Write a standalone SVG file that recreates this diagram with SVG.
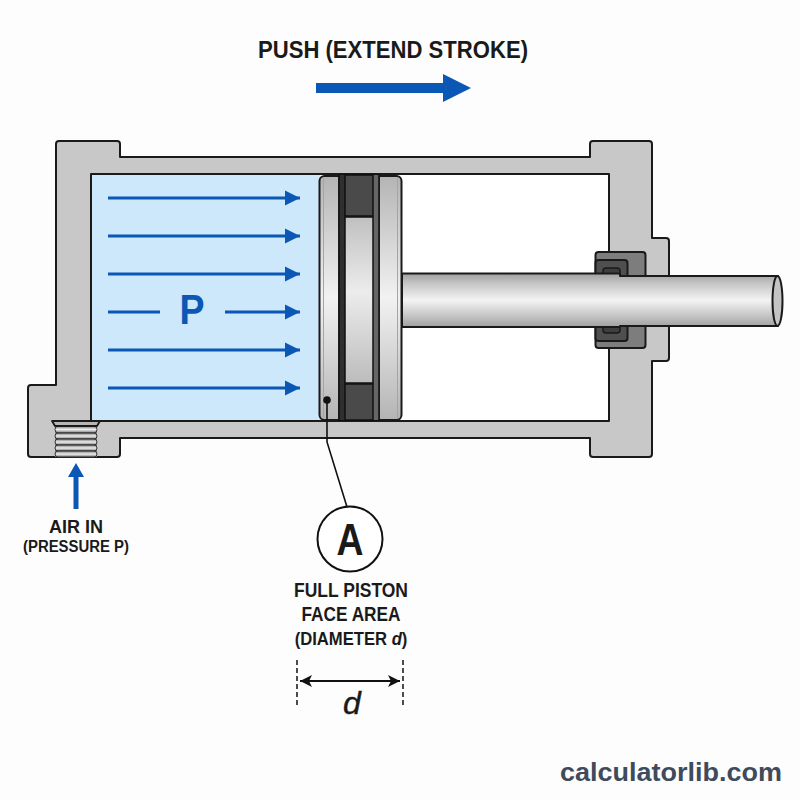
<svg xmlns="http://www.w3.org/2000/svg" width="800" height="800" viewBox="0 0 800 800">
<style>
.ol{stroke:#1a1a1a;stroke-width:2;stroke-linejoin:round}
.flow{stroke:#0b57b5;stroke-width:3;fill:none;marker-end:url(#ah)}
.t{font-family:"Liberation Sans",Arial,sans-serif;font-weight:700;fill:#1a1a1a;text-anchor:middle}
.thr{fill:url(#thread);stroke:#333;stroke-width:1}
</style>
<defs>
<marker id="ah" markerUnits="userSpaceOnUse" markerWidth="16" markerHeight="16" refX="15" refY="8" orient="auto"><path d="M0 .5L15 8L0 15.500Z" fill="#0b57b5"/></marker>
<marker id="dimE" markerUnits="userSpaceOnUse" markerWidth="13" markerHeight="12" refX="12" refY="6" orient="auto"><path d="M0 0L12 6L0 12L3 6Z" fill="#111"/></marker>
<marker id="dimS" markerUnits="userSpaceOnUse" markerWidth="13" markerHeight="12" refX="1" refY="6" orient="auto"><path d="M13 0L1 6L13 12L10 6Z" fill="#111"/></marker>
<linearGradient id="metal" x1="0" y1="0" x2="0" y2="1">
<stop offset="0" stop-color="#a0a0a0"/><stop offset=".18" stop-color="#c4c4c4"/><stop offset=".5" stop-color="#f4f4f4"/><stop offset=".82" stop-color="#c0c0c0"/><stop offset="1" stop-color="#a0a0a0"/></linearGradient>
<linearGradient id="plate" x1="0" y1="0" x2="0" y2="1">
<stop offset="0" stop-color="#b4b4b4"/><stop offset=".5" stop-color="#f2f2f2"/><stop offset="1" stop-color="#b4b4b4"/></linearGradient>
<linearGradient id="mid" x1="0" y1="0" x2="0" y2="1">
<stop offset="0" stop-color="#c0c0c0"/><stop offset=".45" stop-color="#ececec"/><stop offset="1" stop-color="#bcbcbc"/></linearGradient>
<linearGradient id="thread" x1="0" y1="0" x2="0" y2="1">
<stop offset="0" stop-color="#777"/><stop offset=".5" stop-color="#eee"/><stop offset="1" stop-color="#777"/></linearGradient>
</defs>
<rect width="800" height="800" fill="#fdfdfd"/>

<g id="cylinder-body">
<path class="ol" fill="#c8c8c8" d="M59 141H117Q120 141 120 144V157H590V144Q590 141 593 141H649Q652 141 652 144V238H666Q669 238 669 241V358Q669 361 666 361H652V454Q652 457 649 457H593Q590 457 590 454V438H120V454Q120 457 117 457H31Q28 457 28 454V388Q28 385 31 385H56V144Q56 141 59 141Z"/>
<rect x="91" y="174" width="518" height="247" fill="#fff" class="ol"/>
<rect x="92" y="175" width="228" height="245" fill="#cde7fb"/>
</g>

<g id="air-port">
<rect x="55" y="424" width="42" height="33" fill="#8a8a8a"/>
<rect x="55" y="426" width="42" height="7" rx="3.500" class="thr"/>
<rect x="55" y="433" width="42" height="6" rx="3" class="thr"/>
<rect x="55" y="439" width="42" height="6" rx="3" class="thr"/>
<rect x="55" y="445" width="42" height="6" rx="3" class="thr"/>
<rect x="55" y="451" width="42" height="6" rx="3" class="thr"/>
<path d="M52 421H100L97 426H55Z" fill="#b5b5b5" stroke="#1a1a1a" stroke-width="1.800" stroke-linejoin="round"/>
</g>

<g id="rod-seal">
<rect x="595.500" y="252" width="50" height="96" rx="3" fill="#7d7d7d" class="ol"/>
<rect x="595.500" y="260" width="32" height="81" rx="3" fill="#4f4f4f" class="ol"/>
<rect x="603" y="268" width="17" height="65" rx="3" fill="#3e3e3e" stroke="#1a1a1a" stroke-width="1.500"/>
</g>

<g id="piston-rod">
<path class="ol" fill="url(#metal)" d="M402 273.500H620V276H778V326H620V327H402Z"/>
<ellipse cx="777.500" cy="301" rx="5" ry="25" fill="#c4c4c4" class="ol"/>
</g>

<g id="piston">
<rect x="319.500" y="176" width="82" height="244" rx="5" fill="url(#plate)" class="ol"/>
<path d="M323.500 178V418M397.500 178V418" stroke="#a4a4a4" stroke-width="1" fill="none"/>
<rect x="339" y="175" width="40" height="245" fill="#555" stroke="#111" stroke-width="1.500"/>
<rect x="339" y="175" width="6" height="245" fill="#2f2f2f"/>
<rect x="373" y="175" width="6" height="245" fill="#666"/>
<rect x="345" y="175" width="28" height="41" fill="#4a4a4a" stroke="#111" stroke-width="1.500"/>
<rect x="345" y="384" width="28" height="36" fill="#4a4a4a" stroke="#111" stroke-width="1.500"/>
<rect x="345" y="217" width="28" height="166" fill="url(#mid)" stroke="#111" stroke-width="1.500"/>
<path d="M339 175V420M379 175V420" stroke="#111" stroke-width="1.500"/>
</g>

<g id="connectors">
<path class="flow" d="M108 198H300"/>
<path class="flow" d="M108 236H300"/>
<path class="flow" d="M108 274H300"/>
<path class="flow" d="M225 312H300"/>
<path d="M108 312H160" stroke="#0b57b5" stroke-width="3" fill="none"/>
<path class="flow" d="M108 350H300"/>
<path class="flow" d="M108 388H300"/>
<path d="M316 88H445" stroke="#0b57b5" stroke-width="10" fill="none"/>
<path d="M443 74L471 88L443 102Z" fill="#0b57b5"/>
<path d="M76 509V476" stroke="#0b57b5" stroke-width="5" fill="none"/>
<path d="M68 477L76 463L84 477Z" fill="#0b57b5"/>
<path d="M327 400V442L347 507" stroke="#111" stroke-width="1.600" fill="none"/>
<circle cx="327" cy="400" r="3.800" fill="#111"/>
<path d="M297 660V708M403 660V708" stroke="#111" stroke-width="1.500" stroke-dasharray="5 3" fill="none"/>
<path d="M300 681H400" stroke="#111" stroke-width="2" fill="none" marker-start="url(#dimS)" marker-end="url(#dimE)"/>
</g>

<g id="label-a">
<circle cx="350" cy="539" r="32.500" fill="#fff" stroke="#111" stroke-width="2"/>
<text class="t" x="350" y="555" font-size="45" textLength="27" lengthAdjust="spacingAndGlyphs">A</text>
</g>

<g id="labels">
<text class="t" x="393" y="58" font-size="23" textLength="270" lengthAdjust="spacingAndGlyphs">PUSH (EXTEND STROKE)</text>
<text class="t" x="192" y="324" font-size="42" style="fill:#0b57b5" textLength="25" lengthAdjust="spacingAndGlyphs">P</text>
<text class="t" x="76" y="533" font-size="19" textLength="54" lengthAdjust="spacingAndGlyphs">AIR IN</text>
<text class="t" x="76" y="552" font-size="16" textLength="106" lengthAdjust="spacingAndGlyphs">(PRESSURE P)</text>
<text class="t" x="351" y="597" font-size="20" textLength="114" lengthAdjust="spacingAndGlyphs">FULL PISTON</text>
<text class="t" x="351" y="621" font-size="20" textLength="99" lengthAdjust="spacingAndGlyphs">FACE AREA</text>
<text class="t" transform="translate(351 645) scale(.9 1)" font-size="18.500">(DIAMETER <tspan font-style="italic">d</tspan>)</text>
<text x="352" y="714" font-family="Liberation Sans, Arial, sans-serif" font-style="italic" font-size="32" fill="#1a1a1a" stroke="#1a1a1a" stroke-width=".4" text-anchor="middle">d</text>
<text x="671" y="781" font-family="Liberation Sans, Arial, sans-serif" font-weight="700" font-size="26" fill="#3f4b5c" text-anchor="middle" textLength="222" lengthAdjust="spacingAndGlyphs">calculatorlib.com</text>
</g>
</svg>
